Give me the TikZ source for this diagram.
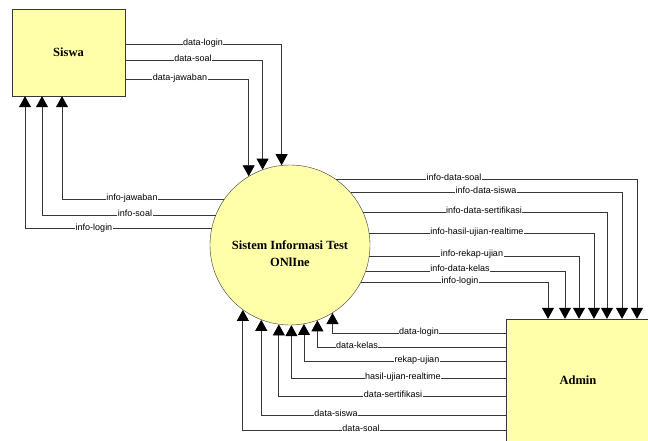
\documentclass[tikz,border=0pt]{standalone}
\usepackage{fontspec}
\setmainfont{Liberation Serif}
\newfontfamily\lblfont{Liberation Sans}
\usetikzlibrary{arrows.meta,positioning}
\definecolor{entfill}{RGB}{255,255,170}
\definecolor{linegray}{RGB}{55,55,55}

\begin{document}
\begin{tikzpicture}[x=1pt, y=-1pt, >={Triangle[width=12pt,length=11pt,color=black]},
  ent/.style={draw=linegray, fill=entfill, inner sep=0pt, font=\fontsize{12.5}{17}\selectfont\bfseries},
  lbl/.style={fill=white, inner sep=0.6pt, font=\lblfont\fontsize{9}{10}\selectfont, anchor=base, yshift=-1.5pt},
  flow/.style={->, draw=linegray, line width=0.8pt}]

\useasboundingbox (0,0) rectangle (648,441);

  % Define coordinates for nodes
\node[ent, minimum width=113pt, minimum height=87pt] (siswa) at (68.5,52.5) {Siswa}; \node[ent, circle, minimum size=160pt] (sit) at (290,245) {}; \node[font=\fontsize{12.5}{17}\selectfont\bfseries, align=center] (sittxt) at ([yshift=-9pt]sit.center) {Sistem Informasi Test\\ONlIne}; \node[ent, minimum width=144pt, minimum height=122pt] (admin) at (578,380) {Admin};

  % Draw arrows between nodes
\draw[flow] (siswa.east |- 0,44) -| (sit.96); \draw[flow] (siswa.east |- 0,60) -| (sit.110); \draw[flow] (siswa.east |- 0,79) -| (sit.121);
\draw[flow] (sit.145) -| (siswa.south -| 62,0); \draw[flow] (sit.158) -| (siswa.south -| 42,0); \draw[flow] (sit.168.5) -| (siswa.south -| 25,0);
\draw[flow] (sit.55.6) -| (admin.north -| 637,0); \draw[flow] (sit.41.5) -| (admin.north -| 622,0); \draw[flow] (sit.24.4) -| (admin.north -| 607,0); \draw[flow] (sit.8.6) -| (admin.north -| 594,0); \draw[flow] (sit.352.8) -| (admin.north -| 579,0); \draw[flow] (sit.341.8) -| (admin.north -| 565,0); \draw[flow] (sit.332.5) -| (admin.north -| 548,0);
\draw[flow] (admin.west |- 0,333) -| (sit.302.5); \draw[flow] (admin.west |- 0,347) -| (sit.290.5); \draw[flow] (admin.west |- 0,361) -| (sit.280.8); \draw[flow] (admin.west |- 0,378) -| (sit.271.4); \draw[flow] (admin.west |- 0,396) -| (sit.262.8); \draw[flow] (admin.west |- 0,415) -| (sit.249.5); \draw[flow] (admin.west |- 0,430) -| (sit.234);

  % Labels on the flows
\node[lbl] (s1) at (203,44) {data-login}; \node[lbl] (s2) at (193,60) {data-soal}; \node[lbl] (s3) at (180,79) {data-jawaban};
\node[lbl] (t1) at (132,199) {info-jawaban}; \node[lbl] (t2) at (135,215) {info-soal}; \node[lbl] (t3) at (94,229) {info-login};
\node[lbl] (a1) at (454,179) {info-data-soal}; \node[lbl] (a2) at (486,192) {info-data-siswa}; \node[lbl] (a3) at (484,212) {info-data-sertifikasi}; \node[lbl] (a4) at (477,233) {info-hasil-ujian-realtime}; \node[lbl] (a5) at (472,255) {info-rekap-ujian}; \node[lbl] (a6) at (460,270) {info-data-kelas}; \node[lbl] (a7) at (460,282) {info-login};
\node[lbl] (b1) at (419,333) {data-login}; \node[lbl] (b2) at (357,347) {data-kelas}; \node[lbl] (b3) at (417,361) {rekap-ujian}; \node[lbl] (b4) at (403,378) {hasil-ujian-realtime}; \node[lbl] (b5) at (393,396) {data-sertifikasi}; \node[lbl] (b6) at (336,415) {data-siswa}; \node[lbl] (b7) at (361,430) {data-soal};

\end{tikzpicture}
\end{document}
